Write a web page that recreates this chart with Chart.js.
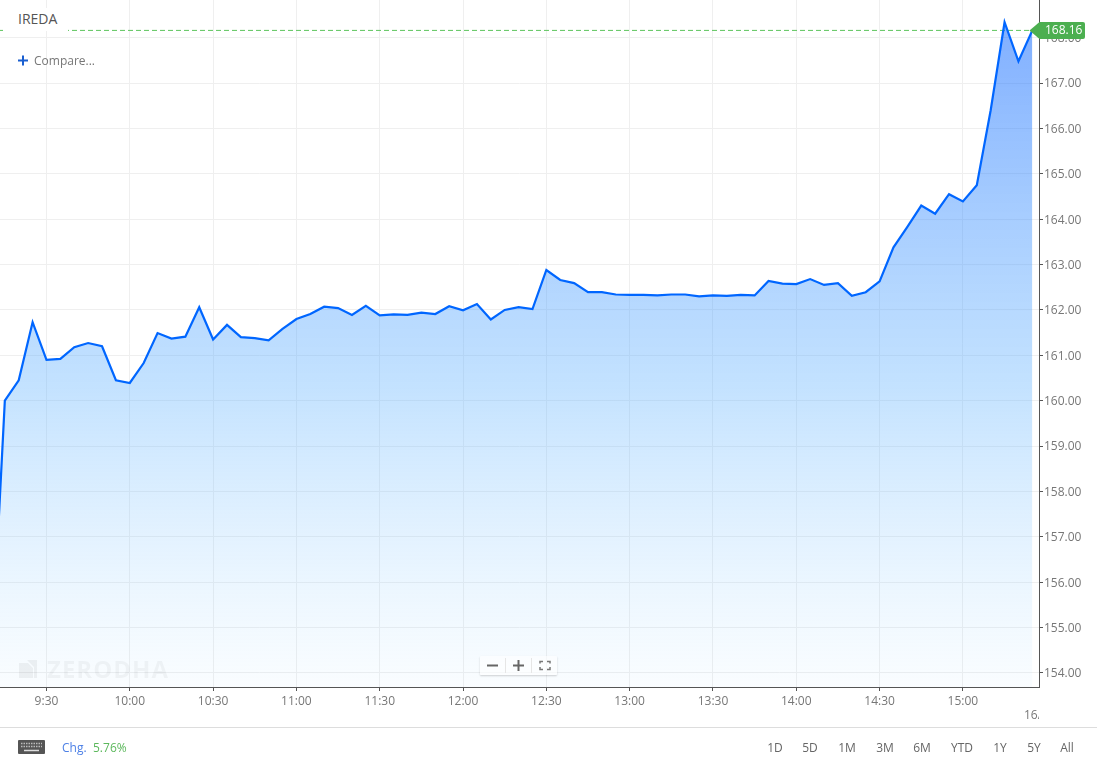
<!DOCTYPE html>
<html>
<head>
<meta charset="utf-8">
<title>IREDA</title>
<script src="https://cdn.jsdelivr.net/npm/chart.js@4/dist/chart.umd.min.js"></script>
<style>
  html, body { margin: 0; padding: 0; background: #fff; overflow: hidden; }
  body { width: 1097px; height: 764px; position: relative; font-family: "Open Sans", sans-serif; color: #666; }
  canvas { position: absolute; left: 0; top: 0; }
  .abs { position: absolute; white-space: nowrap; line-height: 16px; }
  #symbol { left: 3px; top: 8px; width: 65px; height: 23px; background: #fff; }
  #symbol span { position: absolute; left: 15px; top: 3px; font-size: 14px; line-height: 16px; color: #555; }
  #plus { left: 18px; top: 55px; width: 10px; height: 11px; }
  #compare { left: 34px; top: 53px; font-size: 12px; color: #777; }
  #mark { left: 47px; top: 655px; font-size: 24px; font-weight: 700; letter-spacing: 1px; line-height: 28px; color: rgba(0,0,0,.04); }
  #logo { left: 19px; top: 660px; width: 19px; height: 18px; }
  #zoomer { left: 480px; top: 656px; width: 77px; height: 19px; background: rgba(255,255,255,.6); box-shadow: 0 1px 2px rgba(0,0,0,.18); border-radius: 1px; }
  #cut { left: 1024px; top: 707px; width: 15px; height: 16px; overflow: hidden; font-size: 12px; color: #777; }
  #rule { left: 0; top: 727px; width: 1097px; height: 1px; background: #ddd; }
  #kbd { left: 18px; top: 740px; }
  #chg { left: 62px; top: 740px; font-size: 12px; color: #4d80e6; }
  #pct { left: 93px; top: 740px; font-size: 12px; color: #5cb85c; }
  .range { top: 740px; font-size: 12px; color: #666; transform: translateX(-50%); }
</style>
</head>
<body>
<canvas id="chart" width="1097" height="764"></canvas>

<div class="abs" id="symbol"><span>IREDA</span></div>
<svg class="abs" id="plus" viewBox="0 0 10 11"><path d="M0 5.5h10M5 .5v10" stroke="#1a5fd0" stroke-width="2"/></svg>
<div class="abs" id="compare">Compare...</div>

<svg class="abs" id="logo" viewBox="0 0 19 18"><path d="M0 3h9l5 5v10H0z M8 0h10v18h-3V7z" fill="rgba(0,0,0,.05)"/></svg>
<div class="abs" id="mark">ZERODHA</div>

<div class="abs" id="zoomer">
  <svg width="77" height="19" viewBox="0 0 77 19">
    <path d="M7 9.5h11M33 9.5h11M38.5 4v11" stroke="#666" stroke-width="2"/>
    <path d="M25.5 2v15M51.5 2v15" stroke="#e6e6e6" stroke-width="1"/>
    <path d="M60 7.5V5.500h3M67 5.500h3v2M70 11v2.500h-3M63 13.500h-3V11" fill="none" stroke="#777" stroke-width="1.500"/>
  </svg>
</div>

<div class="abs" id="cut">16/</div>
<div class="abs" id="rule"></div>

<svg class="abs" id="kbd" width="27" height="14" viewBox="0 0 27 14">
  <rect width="27" height="14" rx="1" fill="#555"/>
  <path d="M3 3.500h21M3 6.500h21" stroke="#bbb" stroke-width="1.5" stroke-dasharray="1.5 1"/>
  <path d="M6 10.500h15" stroke="#ddd" stroke-width="1.5"/>
</svg>
<div class="abs" id="chg">Chg.</div>
<div class="abs" id="pct"></div>
<div id="ranges"></div>

<script>
'use strict';

// ── Data ──────────────────────────────────────────────────────
const symbol = 'IREDA';
const changePct = '5.76%';
const rangeLabels = ['1D', '5D', '1M', '3M', '6M', 'YTD', '1Y', '5Y', 'All'];
const rangeCentres = [775, 810, 847, 885, 922, 962, 1000, 1034, 1067];

// one bar every five minutes, the first one sits off the left edge
const times = [
  '9:10', '9:15', '9:20', '9:25', '9:30', '9:35', '9:40', '9:45', '9:50', '9:55',
  '10:00', '10:05', '10:10', '10:15', '10:20', '10:25', '10:30', '10:35', '10:40', '10:45', '10:50', '10:55',
  '11:00', '11:05', '11:10', '11:15', '11:20', '11:25', '11:30', '11:35', '11:40', '11:45', '11:50', '11:55',
  '12:00', '12:05', '12:10', '12:15', '12:20', '12:25', '12:30', '12:35', '12:40', '12:45', '12:50', '12:55',
  '13:00', '13:05', '13:10', '13:15', '13:20', '13:25', '13:30', '13:35', '13:40', '13:45', '13:50', '13:55',
  '14:00', '14:05', '14:10', '14:15', '14:20', '14:25', '14:30', '14:35', '14:40', '14:45', '14:50', '14:55',
  '15:00', '15:05', '15:10', '15:15', '15:20', '15:25'
];
const prices = [
  154.02, 160.00, 160.45, 161.73, 160.90, 160.92, 161.18, 161.27, 161.20, 160.45,
  160.39, 160.83, 161.49, 161.37, 161.41, 162.06, 161.35, 161.67, 161.40, 161.38, 161.33, 161.58,
  161.80, 161.91, 162.07, 162.04, 161.89, 162.09, 161.88, 161.90, 161.89, 161.94, 161.91, 162.08,
  161.99, 162.13, 161.79, 162.00, 162.06, 162.02, 162.88, 162.66, 162.59, 162.39, 162.39, 162.34,
  162.33, 162.33, 162.32, 162.34, 162.34, 162.30, 162.32, 162.31, 162.33, 162.32, 162.64, 162.58,
  162.57, 162.68, 162.55, 162.59, 162.31, 162.39, 162.63, 163.38, 163.83, 164.30, 164.12, 164.55,
  164.39, 164.75, 166.40, 168.34, 167.48, 168.16
];
const lastPrice = prices[prices.length - 1];

// ── Axis window ───────────────────────────────────────────────
const xMin = 553.26;
const xMax = 927.4;
const yMin = 153.69;
const yMax = 168.83;

const toMinutes = t => {
  const [h, m] = t.split(':').map(Number);
  return h * 60 + m;
};
const toLabel = v => `${Math.floor(v / 60)}:${String(v % 60).padStart(2, '0')}`;

// ── Price tag on the y axis ───────────────────────────────────
const priceTag = {
  id: 'priceTag',
  // y labels sit a pixel lower than Chart.js centres them
  beforeDraw(chart) {
    chart.scales.y.getLabelItems().forEach(item => { item.options.translation[1] += 1; });
  },
  afterDraw(chart) {
    const { ctx, scales } = chart;
    const y = scales.y.getPixelForValue(lastPrice);
    const tip = scales.x.getPixelForValue(xMax) - 9.5;
    ctx.save();
    ctx.fillStyle = '#4caf50';
    ctx.beginPath();
    ctx.moveTo(tip, y);
    ctx.lineTo(tip + 10, y - 8.5);
    ctx.lineTo(1083, y - 8.5);
    ctx.arcTo(1085, y - 8.5, 1085, y - 6.5, 2);
    ctx.lineTo(1085, y + 6.5);
    ctx.arcTo(1085, y + 8.5, 1083, y + 8.5, 2);
    ctx.lineTo(tip + 10, y + 8.5);
    ctx.closePath();
    ctx.fill();
    ctx.fillStyle = '#fff';
    ctx.font = '12px "Open Sans"';
    ctx.textAlign = 'left';
    ctx.textBaseline = 'middle';
    ctx.fillText(lastPrice.toFixed(2), 1045, y + 0.5);
    ctx.restore();
  }
};

// ── Chart ─────────────────────────────────────────────────────
const points = times.map((t, i) => ({ x: toMinutes(t), y: prices[i] }));
const canvas = document.getElementById('chart');

new Chart(canvas, {
  type: 'line',
  plugins: [priceTag],
  data: {
    datasets: [
      {
        data: points,
        borderColor: '#0066ff',
        borderWidth: 2.2,
        pointRadius: 0,
        tension: 0,
        fill: 'start',
        backgroundColor: ctx => {
          const g = ctx.chart.ctx.createLinearGradient(0, 20, 0, 687);
          g.addColorStop(0, 'rgba(10,100,255,0.52)');
          g.addColorStop(0.55, 'rgba(90,175,255,0.36)');
          g.addColorStop(1, 'rgba(150,210,255,0.05)');
          return g;
        }
      },
      {
        data: [{ x: xMin, y: lastPrice }, { x: toMinutes(times[times.length - 1]), y: lastPrice }],
        borderColor: '#5cc45c',
        borderWidth: 1,
        borderDash: [5, 3],
        pointRadius: 0,
        fill: false
      }
    ]
  },
  options: {
    responsive: false,
    animation: false,
    layout: { padding: 0 },
    plugins: { legend: { display: false }, tooltip: { enabled: false } },
    scales: {
      x: {
        type: 'linear',
        min: xMin,
        max: xMax,
        afterFit: s => { s.height = 77; s.paddingLeft = 0; s.paddingRight = 0; },
        border: { color: '#555' },
        grid: { color: '#efefef', tickColor: '#555', tickLength: 4 },
        ticks: {
          stepSize: 30,
          includeBounds: false,
          autoSkip: false,
          maxRotation: 0,
          padding: 3,
          color: '#777',
          font: { family: '"Open Sans"', size: 12 },
          callback: v => toLabel(v)
        }
      },
      y: {
        position: 'right',
        min: yMin,
        max: yMax,
        afterFit: s => { s.width = 58; s.paddingTop = 0; s.paddingBottom = 0; },
        border: { color: '#555' },
        grid: { color: '#efefef', tickColor: '#555', tickLength: 4 },
        ticks: {
          stepSize: 1,
          includeBounds: false,
          padding: 1,
          color: '#777',
          font: { family: '"Open Sans"', size: 12 },
          callback: v => v.toFixed(2)
        }
      }
    }
  }
});

// ── Toolbar text ──────────────────────────────────────────────
document.querySelector('#symbol span').textContent = symbol;
document.getElementById('pct').textContent = changePct;
document.getElementById('ranges').innerHTML = rangeLabels
  .map((r, i) => `<div class="abs range" style="left:${rangeCentres[i]}px">${r}</div>`)
  .join('');
</script>
</body>
</html>
